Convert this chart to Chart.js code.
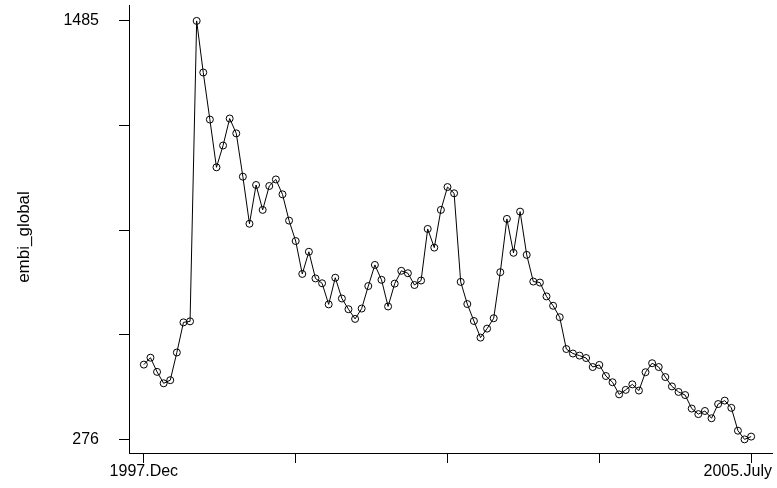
<!DOCTYPE html>
<html>
<head>
<meta charset="utf-8">
<script src="https://cdn.jsdelivr.net/npm/chart.js@4/dist/chart.umd.min.js"></script>
<style>
  html, body { margin: 0; padding: 0; background: #fff; }
</style>
</head>
<body>
<canvas id="myChart" width="777" height="488"></canvas>
<script>
// monthly series, 1997.Dec .. 2005.July
const embiGlobal = [
  492, 512, 471, 438, 447, 527, 614, 617, 1485, 1336,
  1200, 1062, 1125, 1203, 1160, 1035, 899, 1011, 939, 1008,
  1027, 984, 908, 849, 754, 818, 741, 727, 666, 743,
  683, 652, 624, 654, 719, 780, 737, 660, 726, 763,
  756, 722, 735, 884, 830, 939, 1005, 987, 731, 667,
  618, 570, 596, 626, 759, 913, 815, 934, 809, 732,
  729, 689, 662, 629, 537, 524, 518, 511, 485, 491,
  459, 441, 406, 419, 435, 417, 470, 496, 485, 456,
  429, 413, 404, 365, 349, 358, 337, 378, 388, 367,
  301, 276, 284
];
const xTickMonths = [0, 23, 46, 69, 92];
const xTickLabels = ["1997.Dec", "", "", "", "2005.July"];
const yTickValues = [276, 578.25, 880.5, 1182.75, 1485];
const yTickLabels = ["276", "", "", "", "1485"];
const yTitle = "embi_global";

const fontFamily = '"Liberation Sans", Arial, sans-serif';

// x labels at the tick positions (last one kept inside the canvas) and the y title
const labelPlugin = {
  id: "axisLabels",
  afterDraw(chart) {
    const ctx = chart.ctx;
    const xScale = chart.scales.x;
    ctx.save();
    ctx.font = "16px " + fontFamily;
    ctx.fillStyle = "#000";
    ctx.textBaseline = "middle";
    ctx.textAlign = "center";
    for (let i = 0; i < xTickMonths.length; i++) {
      const label = xTickLabels[i];
      if (!label) continue;
      let x = xScale.getPixelForValue(xTickMonths[i]);
      const w = ctx.measureText(label).width;
      if (x + w / 2 > chart.width - 5) x = chart.width - 5 - w / 2;
      ctx.fillText(label, x, xScale.top + 19);
    }
    ctx.font = "17px " + fontFamily;
    ctx.translate(24, 237);
    ctx.rotate(-Math.PI / 2);
    ctx.fillText(yTitle, 0, 0);
    ctx.restore();
  }
};

const axisGrid = {
  drawOnChartArea: false,
  drawTicks: true,
  tickLength: 10,
  tickColor: "#000",
  tickWidth: 1
};

const ctx = document.getElementById("myChart").getContext("2d");
const myChart = new Chart(ctx, {
  type: "line",
  data: {
    datasets: [
      {
        label: yTitle,
        data: embiGlobal.map(function (v, i) { return { x: i, y: v }; }),
        borderColor: "#000",
        borderWidth: 1,
        pointRadius: 3.5,
        pointBorderWidth: 1,
        pointBorderColor: "#000",
        pointBackgroundColor: "rgba(0,0,0,0)",
        fill: false,
        tension: 0
      }
    ]
  },
  options: {
    responsive: false,
    animation: false,
    layout: { padding: { top: 3, left: 0, right: 0, bottom: 0 } },
    plugins: { legend: { display: false }, tooltip: { enabled: false } },
    scales: {
      x: {
        type: "linear",
        min: -2.25,
        max: 95.16,
        afterBuildTicks: function (s) { s.ticks = xTickMonths.map(function (v) { return { value: v }; }); },
        afterFit: function (s) { s.height = 35; s.paddingLeft = 0; s.paddingRight = 0; },
        grid: axisGrid,
        border: { display: true, color: "#000", width: 1 },
        ticks: { display: false }
      },
      y: {
        min: 236.6,
        max: 1531,
        afterBuildTicks: function (s) { s.ticks = yTickValues.map(function (v) { return { value: v }; }); },
        afterFit: function (s) { s.width = 129; s.paddingTop = 0; s.paddingBottom = 0; },
        grid: axisGrid,
        border: { display: true, color: "#000", width: 1 },
        ticks: {
          color: "#000",
          padding: 20,
          font: { family: fontFamily, size: 16 },
          callback: function (v, i) { return yTickLabels[i]; }
        }
      }
    }
  },
  plugins: [labelPlugin]
});
</script>
</body>
</html>
